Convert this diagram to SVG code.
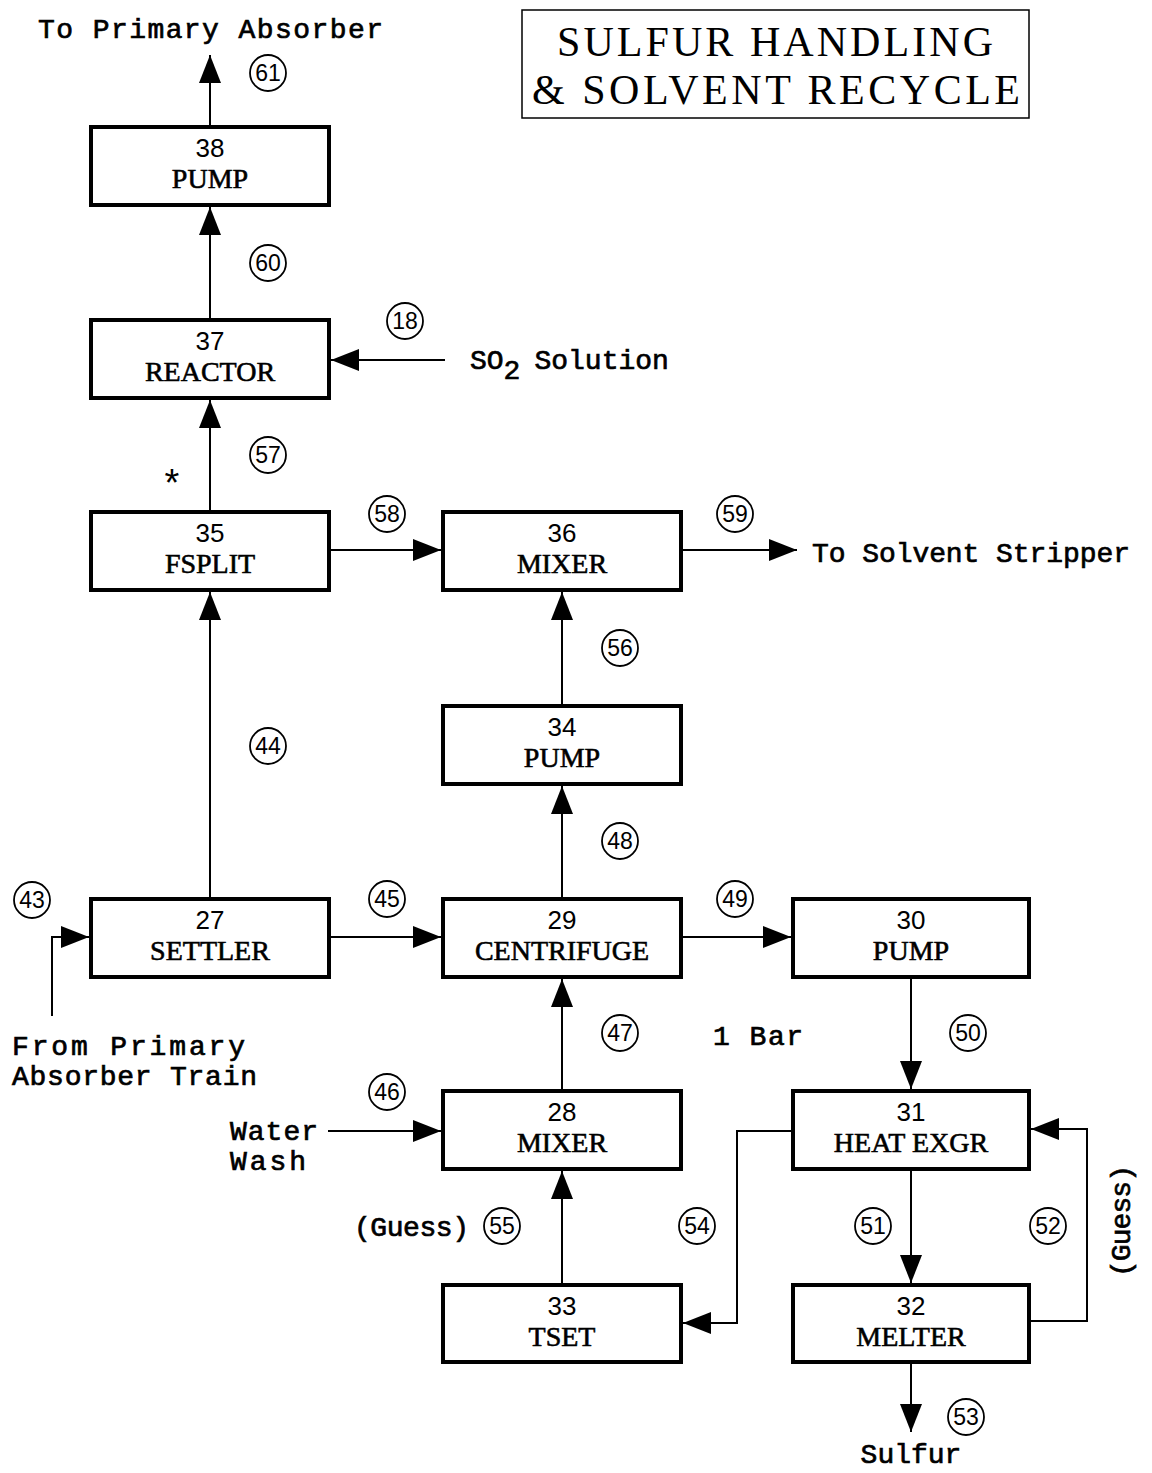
<svg xmlns="http://www.w3.org/2000/svg" width="1152" height="1473" viewBox="0 0 1152 1473">
<style>
.box{fill:#fff;stroke:#000;stroke-width:4}
.num{font-family:"Liberation Sans",Arial,sans-serif;font-size:26px;text-anchor:middle;fill:#000}
.name{font-family:"Liberation Serif","Times New Roman",serif;font-size:28px;text-anchor:middle;fill:#000;stroke:#000;stroke-width:0.6}
.ln{fill:none;stroke:#000;stroke-width:2}
.circ{fill:#fff;stroke:#000;stroke-width:1.8}
.cn{font-family:"Liberation Sans",Arial,sans-serif;font-size:23px;text-anchor:middle;fill:#000}
.mono{font-family:"Liberation Mono","Courier New",monospace;font-size:28px;fill:#000;stroke:#000;stroke-width:0.7}
.title{font-family:"Liberation Serif","Times New Roman",serif;font-size:42px;fill:#000;text-anchor:middle}
</style>
<defs>
<marker id="ah" markerUnits="userSpaceOnUse" markerWidth="30" markerHeight="24" refX="28" refY="11" orient="auto">
<path d="M0,0 L28,11 L0,22 Z" fill="#000"/>
</marker>
</defs>
<rect width="1152" height="1473" fill="#fff"/>

<g id="title">
<rect x="522" y="10" width="507" height="108" fill="none" stroke="#000" stroke-width="1.5"/>
<text class="title" x="775" y="56" textLength="436" lengthAdjust="spacing">SULFUR  HANDLING</text>
<text class="title" x="776" y="104" textLength="488" lengthAdjust="spacing">&amp; SOLVENT  RECYCLE</text>
</g>

<g id="connectors">
<line class="ln" x1="210" y1="127" x2="210" y2="55" marker-end="url(#ah)"/>
<line class="ln" x1="210" y1="320" x2="210" y2="207" marker-end="url(#ah)"/>
<line class="ln" x1="445" y1="360" x2="331" y2="360" marker-end="url(#ah)"/>
<line class="ln" x1="210" y1="512" x2="210" y2="400" marker-end="url(#ah)"/>
<line class="ln" x1="331" y1="550" x2="441" y2="550" marker-end="url(#ah)"/>
<line class="ln" x1="683" y1="550" x2="797" y2="550" marker-end="url(#ah)"/>
<line class="ln" x1="210" y1="897" x2="210" y2="592" marker-end="url(#ah)"/>
<line class="ln" x1="562" y1="704" x2="562" y2="592" marker-end="url(#ah)"/>
<line class="ln" x1="562" y1="897" x2="562" y2="786" marker-end="url(#ah)"/>
<line class="ln" x1="331" y1="937" x2="441" y2="937" marker-end="url(#ah)"/>
<polyline class="ln" points="52,1016 52,937 89,937" marker-end="url(#ah)"/>
<line class="ln" x1="683" y1="937" x2="791" y2="937" marker-end="url(#ah)"/>
<line class="ln" x1="911" y1="979" x2="911" y2="1089" marker-end="url(#ah)"/>
<line class="ln" x1="562" y1="1089" x2="562" y2="979" marker-end="url(#ah)"/>
<line class="ln" x1="328" y1="1131" x2="441" y2="1131" marker-end="url(#ah)"/>
<polyline class="ln" points="791,1131 737,1131 737,1323 683,1323" marker-end="url(#ah)"/>
<line class="ln" x1="562" y1="1283" x2="562" y2="1171" marker-end="url(#ah)"/>
<line class="ln" x1="911" y1="1171" x2="911" y2="1283" marker-end="url(#ah)"/>
<polyline class="ln" points="1031,1321 1087,1321 1087,1129 1031,1129" marker-end="url(#ah)"/>
<line class="ln" x1="911" y1="1364" x2="911" y2="1432" marker-end="url(#ah)"/>
</g>

<g id="node38"><rect class="box" x="91" y="127" width="238" height="78"/><text class="num" x="210" y="157">38</text><text class="name" x="210" y="188">PUMP</text></g>
<g id="node37"><rect class="box" x="91" y="320" width="238" height="78"/><text class="num" x="210" y="350">37</text><text class="name" x="210" y="381">REACTOR</text></g>
<g id="node35"><rect class="box" x="91" y="512" width="238" height="78"/><text class="num" x="210" y="542">35</text><text class="name" x="210" y="573">FSPLIT</text></g>
<g id="node36"><rect class="box" x="443" y="512" width="238" height="78"/><text class="num" x="562" y="542">36</text><text class="name" x="562" y="573">MIXER</text></g>
<g id="node34"><rect class="box" x="443" y="706" width="238" height="78"/><text class="num" x="562" y="736">34</text><text class="name" x="562" y="767">PUMP</text></g>
<g id="node27"><rect class="box" x="91" y="899" width="238" height="78"/><text class="num" x="210" y="929">27</text><text class="name" x="210" y="960">SETTLER</text></g>
<g id="node29"><rect class="box" x="443" y="899" width="238" height="78"/><text class="num" x="562" y="929">29</text><text class="name" x="562" y="960">CENTRIFUGE</text></g>
<g id="node30"><rect class="box" x="793" y="899" width="236" height="78"/><text class="num" x="911" y="929">30</text><text class="name" x="911" y="960">PUMP</text></g>
<g id="node28"><rect class="box" x="443" y="1091" width="238" height="78"/><text class="num" x="562" y="1121">28</text><text class="name" x="562" y="1152">MIXER</text></g>
<g id="node31"><rect class="box" x="793" y="1091" width="236" height="78"/><text class="num" x="911" y="1121">31</text><text class="name" x="911" y="1152">HEAT  EXGR</text></g>
<g id="node33"><rect class="box" x="443" y="1285" width="238" height="77"/><text class="num" x="562" y="1315">33</text><text class="name" x="562" y="1346">TSET</text></g>
<g id="node32"><rect class="box" x="793" y="1285" width="236" height="77"/><text class="num" x="911" y="1315">32</text><text class="name" x="911" y="1346">MELTER</text></g>

<g id="streams">
<circle class="circ" cx="268" cy="73" r="18"/><text class="cn" x="268" y="81">61</text>
<circle class="circ" cx="268" cy="263" r="18"/><text class="cn" x="268" y="271">60</text>
<circle class="circ" cx="405" cy="321" r="18"/><text class="cn" x="405" y="329">18</text>
<circle class="circ" cx="268" cy="455" r="18"/><text class="cn" x="268" y="463">57</text>
<circle class="circ" cx="387" cy="514" r="18"/><text class="cn" x="387" y="522">58</text>
<circle class="circ" cx="735" cy="514" r="18"/><text class="cn" x="735" y="522">59</text>
<circle class="circ" cx="268" cy="746" r="18"/><text class="cn" x="268" y="754">44</text>
<circle class="circ" cx="620" cy="648" r="18"/><text class="cn" x="620" y="656">56</text>
<circle class="circ" cx="620" cy="841" r="18"/><text class="cn" x="620" y="849">48</text>
<circle class="circ" cx="32" cy="900" r="18"/><text class="cn" x="32" y="908">43</text>
<circle class="circ" cx="387" cy="899" r="18"/><text class="cn" x="387" y="907">45</text>
<circle class="circ" cx="735" cy="899" r="18"/><text class="cn" x="735" y="907">49</text>
<circle class="circ" cx="620" cy="1033" r="18"/><text class="cn" x="620" y="1041">47</text>
<circle class="circ" cx="968" cy="1033" r="18"/><text class="cn" x="968" y="1041">50</text>
<circle class="circ" cx="387" cy="1092" r="18"/><text class="cn" x="387" y="1100">46</text>
<circle class="circ" cx="502" cy="1226" r="18"/><text class="cn" x="502" y="1234">55</text>
<circle class="circ" cx="697" cy="1226" r="18"/><text class="cn" x="697" y="1234">54</text>
<circle class="circ" cx="873" cy="1226" r="18"/><text class="cn" x="873" y="1234">51</text>
<circle class="circ" cx="1048" cy="1226" r="18"/><text class="cn" x="1048" y="1234">52</text>
<circle class="circ" cx="966" cy="1417" r="18"/><text class="cn" x="966" y="1425">53</text>
</g>

<g id="labels">
<text class="mono" x="38" y="38" textLength="345" lengthAdjust="spacing">To Primary Absorber</text>
<text class="mono" x="470" y="369">SO<tspan dy="10">2</tspan><tspan dy="-10" dx="14">Solution</tspan></text>
<text x="172" y="496" font-family="Liberation Sans,Arial,sans-serif" font-size="38" text-anchor="middle">*</text>
<text class="mono" x="812" y="562" textLength="318" lengthAdjust="spacing">To Solvent Stripper</text>
<text class="mono" x="12" y="1055" textLength="233" lengthAdjust="spacing">From Primary</text>
<text class="mono" x="12" y="1085" textLength="245" lengthAdjust="spacing">Absorber Train</text>
<text class="mono" x="713" y="1045" textLength="90" lengthAdjust="spacing">1 Bar</text>
<text class="mono" x="230" y="1140" textLength="88" lengthAdjust="spacing">Water</text>
<text class="mono" x="230" y="1170" textLength="76" lengthAdjust="spacing">Wash</text>
<text class="mono" x="354" y="1236" textLength="115" lengthAdjust="spacing">(Guess)</text>
<text class="mono" x="0" y="0" textLength="112" lengthAdjust="spacing" transform="translate(1130,1277) rotate(-90)">(Guess)</text>
<text class="mono" x="911" y="1463" text-anchor="middle">Sulfur</text>
</g>
</svg>
